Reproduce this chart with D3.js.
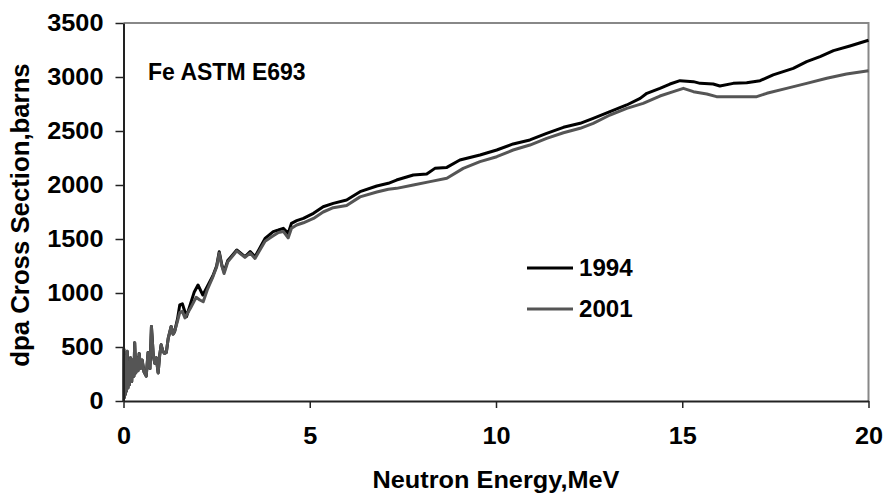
<!DOCTYPE html>
<html>
<head>
<meta charset="utf-8">
<script src="https://d3js.org/d3.v7.min.js"></script>
<style>
  body { margin: 0; background: #fff; }
  text { font-family: "Liberation Sans", Arial, sans-serif; font-weight: bold; fill: #000; }
</style>
</head>
<body>
<svg width="885" height="497"></svg>
<script>
// neutron energy (MeV) and dpa cross section (barns)
var energy1994 = [0, 0.01, 0.02, 0.04, 0.05, 0.07, 0.08, 0.10, 0.12, 0.14, 0.16, 0.19, 0.22, 0.25, 0.28, 0.30,
  0.33, 0.36, 0.39, 0.42, 0.46, 0.50, 0.55, 0.61, 0.66, 0.71, 0.75, 0.80, 0.84, 0.88, 0.93, 0.97, 1.01,
  1.06, 1.10, 1.15, 1.20, 1.28, 1.33, 1.37, 1.45, 1.51, 1.58, 1.69, 1.80, 1.90, 2.00, 2.13, 2.25, 2.40,
  2.50, 2.57, 2.64, 2.70, 2.80, 2.90, 3.04, 3.26, 3.40, 3.53, 3.80, 4.02, 4.16, 4.29, 4.42, 4.51, 4.65,
  4.83, 5.10, 5.36, 5.63, 5.99, 6.35, 6.80, 7.11, 7.33, 7.78, 8.14, 8.36, 8.68, 9.03, 9.57, 10.02, 10.46,
  10.91, 11.36, 11.81, 12.26, 12.61, 13.06, 13.51, 13.87, 14.05, 14.40, 14.67, 14.94, 15.30, 15.48, 15.83,
  16.01, 16.37, 16.73, 17.09, 17.44, 17.98, 18.34, 18.70, 19.06, 19.50, 20.0];
var dpa1994 = [0, 480, 30, 420, 60, 380, 90, 460, 120, 330, 150, 400, 180, 380, 230, 540,
  260, 400, 280, 440, 300, 380, 270, 230, 450, 300, 690, 420, 350, 400, 260, 420, 520,
  460, 440, 450, 580, 690, 620, 640, 760, 890, 900, 780, 900, 1010, 1074, 981, 1060, 1160,
  1250, 1382, 1260, 1197, 1300, 1340, 1398, 1336, 1383, 1336, 1506, 1568, 1583, 1599, 1552, 1645, 1670,
  1691, 1738, 1799, 1830, 1861, 1938, 1991, 2016, 2046, 2093, 2102, 2154, 2163, 2231, 2278, 2324, 2380,
  2417, 2478, 2534, 2571, 2617, 2679, 2741, 2802, 2849, 2895, 2935, 2966, 2957, 2941, 2935,
  2917, 2941, 2947, 2966, 3019, 3080, 3142, 3188, 3244, 3287, 3340];

var energy2001 = [0, 0.01, 0.02, 0.04, 0.05, 0.07, 0.08, 0.10, 0.12, 0.14, 0.16, 0.19, 0.22, 0.25, 0.28, 0.30,
  0.33, 0.36, 0.39, 0.42, 0.46, 0.50, 0.55, 0.61, 0.66, 0.71, 0.75, 0.80, 0.84, 0.88, 0.93, 0.97, 1.01,
  1.06, 1.10, 1.15, 1.20, 1.28, 1.33, 1.37, 1.45, 1.51, 1.58, 1.65, 1.80, 1.95, 2.05, 2.14, 2.25, 2.40,
  2.50, 2.57, 2.64, 2.70, 2.80, 2.90, 3.04, 3.26, 3.40, 3.53, 3.80, 4.02, 4.16, 4.29, 4.42, 4.51, 4.65,
  4.83, 5.10, 5.36, 5.63, 5.99, 6.35, 6.80, 7.11, 7.33, 7.78, 8.23, 8.68, 9.12, 9.57, 10.02, 10.46,
  10.91, 11.36, 11.81, 12.26, 12.61, 13.06, 13.51, 13.95, 14.40, 14.76, 15.03, 15.30, 15.66, 15.92,
  16.37, 17.00, 17.27, 17.80, 18.34, 18.88, 19.41, 20.0];
var dpa2001 = [0, 480, 30, 420, 60, 380, 90, 460, 120, 330, 150, 400, 180, 380, 230, 540,
  260, 400, 280, 440, 300, 380, 270, 230, 450, 300, 690, 420, 350, 400, 260, 420, 520,
  460, 440, 450, 580, 690, 620, 640, 740, 820, 830, 770, 860, 960, 935, 919, 1030, 1150,
  1240, 1370, 1250, 1180, 1290, 1330, 1390, 1330, 1370, 1320, 1480, 1530, 1560, 1570, 1510, 1600, 1630,
  1650, 1690, 1750, 1790, 1810, 1890, 1935, 1960, 1969, 2000, 2031, 2062, 2154, 2216, 2262, 2324,
  2370, 2432, 2484, 2525, 2571, 2648, 2710, 2756, 2824, 2864, 2895, 2864, 2843, 2818,
  2818, 2818, 2849, 2895, 2941, 2988, 3028, 3058];

var seriesNames = ["1994", "2001"];
var seriesColors = ["#000000", "#555555"];
var xTicks = [0, 5, 10, 15, 20];
var yTicks = [0, 500, 1000, 1500, 2000, 2500, 3000, 3500];

var svg = d3.select("svg");

var x = d3.scaleLinear().domain([0, 20]).range([123.5, 868.5]);
var y = d3.scaleLinear().domain([0, 3500]).range([401, 23]);

// the original text is a little wider than Liberation Sans renders it
function stretch(sel, k) {
  sel.each(function() {
    var w = this.getComputedTextLength();
    d3.select(this).attr("textLength", w * k).attr("lengthAdjust", "spacingAndGlyphs");
  });
}

// plot frame: grey on top and right
svg.append("path")
  .attr("d", "M" + x(0) + "," + y(3500) + "H" + x(20) + "V" + y(0))
  .attr("fill", "none")
  .attr("stroke", "#888")
  .attr("stroke-width", 2);

var series = [
  { name: seriesNames[0], color: seriesColors[0], pts: d3.zip(energy1994, dpa1994) },
  { name: seriesNames[1], color: seriesColors[1], pts: d3.zip(energy2001, dpa2001) }
];

var line = d3.line()
  .x(function(d) { return x(d[0]); })
  .y(function(d) { return y(d[1]); });

// 2001 is drawn over 1994, as in the original
svg.selectAll(".series")
  .data(series)
  .enter().append("path")
  .attr("class", "series")
  .attr("d", function(d) { return line(d.pts); })
  .attr("fill", "none")
  .attr("stroke", function(d) { return d.color; })
  .attr("stroke-width", 3)
  .attr("stroke-linejoin", "round");

var yAxis = svg.append("g")
  .attr("transform", "translate(" + x(0) + ",0)")
  .call(d3.axisLeft(y).tickValues(yTicks).tickFormat(d3.format("d"))
    .tickSize(8).tickPadding(12).tickSizeOuter(0));

var xAxis = svg.append("g")
  .attr("transform", "translate(0," + y(0) + ")")
  .call(d3.axisBottom(x).tickValues(xTicks).tickFormat(d3.format("d"))
    .tickSize(7).tickPadding(20).tickSizeOuter(0));

[xAxis, yAxis].forEach(function(g) {
  g.select(".domain").attr("stroke", "#222").attr("stroke-width", 2);
  g.selectAll(".tick line").attr("stroke", "#222").attr("stroke-width", 1.5);
  g.selectAll(".tick text")
    .attr("fill", "#000")
    .style("font-size", "23px")
    .style("font-family", "'Liberation Sans', Arial, sans-serif")
    .style("font-weight", "bold")
    .call(stretch, 1.1);
});

svg.append("text")
  .attr("x", 148)
  .attr("y", 80)
  .style("font-size", "23px")
  .text("Fe ASTM E693");

svg.append("text")
  .attr("x", 496)
  .attr("y", 488)
  .attr("text-anchor", "middle")
  .style("font-size", "23px")
  .text("Neutron Energy,MeV")
  .call(stretch, 1.1);

svg.append("text")
  .attr("transform", "translate(29,215) rotate(-90)")
  .attr("text-anchor", "middle")
  .style("font-size", "25px")
  .text("dpa Cross Section,barns")
  .call(stretch, 1.03);

// legend
var legend = svg.selectAll(".legend")
  .data(series)
  .enter().append("g")
  .attr("class", "legend")
  .attr("transform", function(d, i) { return "translate(527," + (268 + i * 41) + ")"; });

legend.append("line")
  .attr("x1", 0).attr("x2", 46)
  .attr("stroke", function(d) { return d.color; })
  .attr("stroke-width", 3);

legend.append("text")
  .attr("x", 52)
  .attr("y", 8)
  .style("font-size", "23px")
  .text(function(d) { return d.name; })
  .call(stretch, 1.05);
</script>
</body>
</html>
